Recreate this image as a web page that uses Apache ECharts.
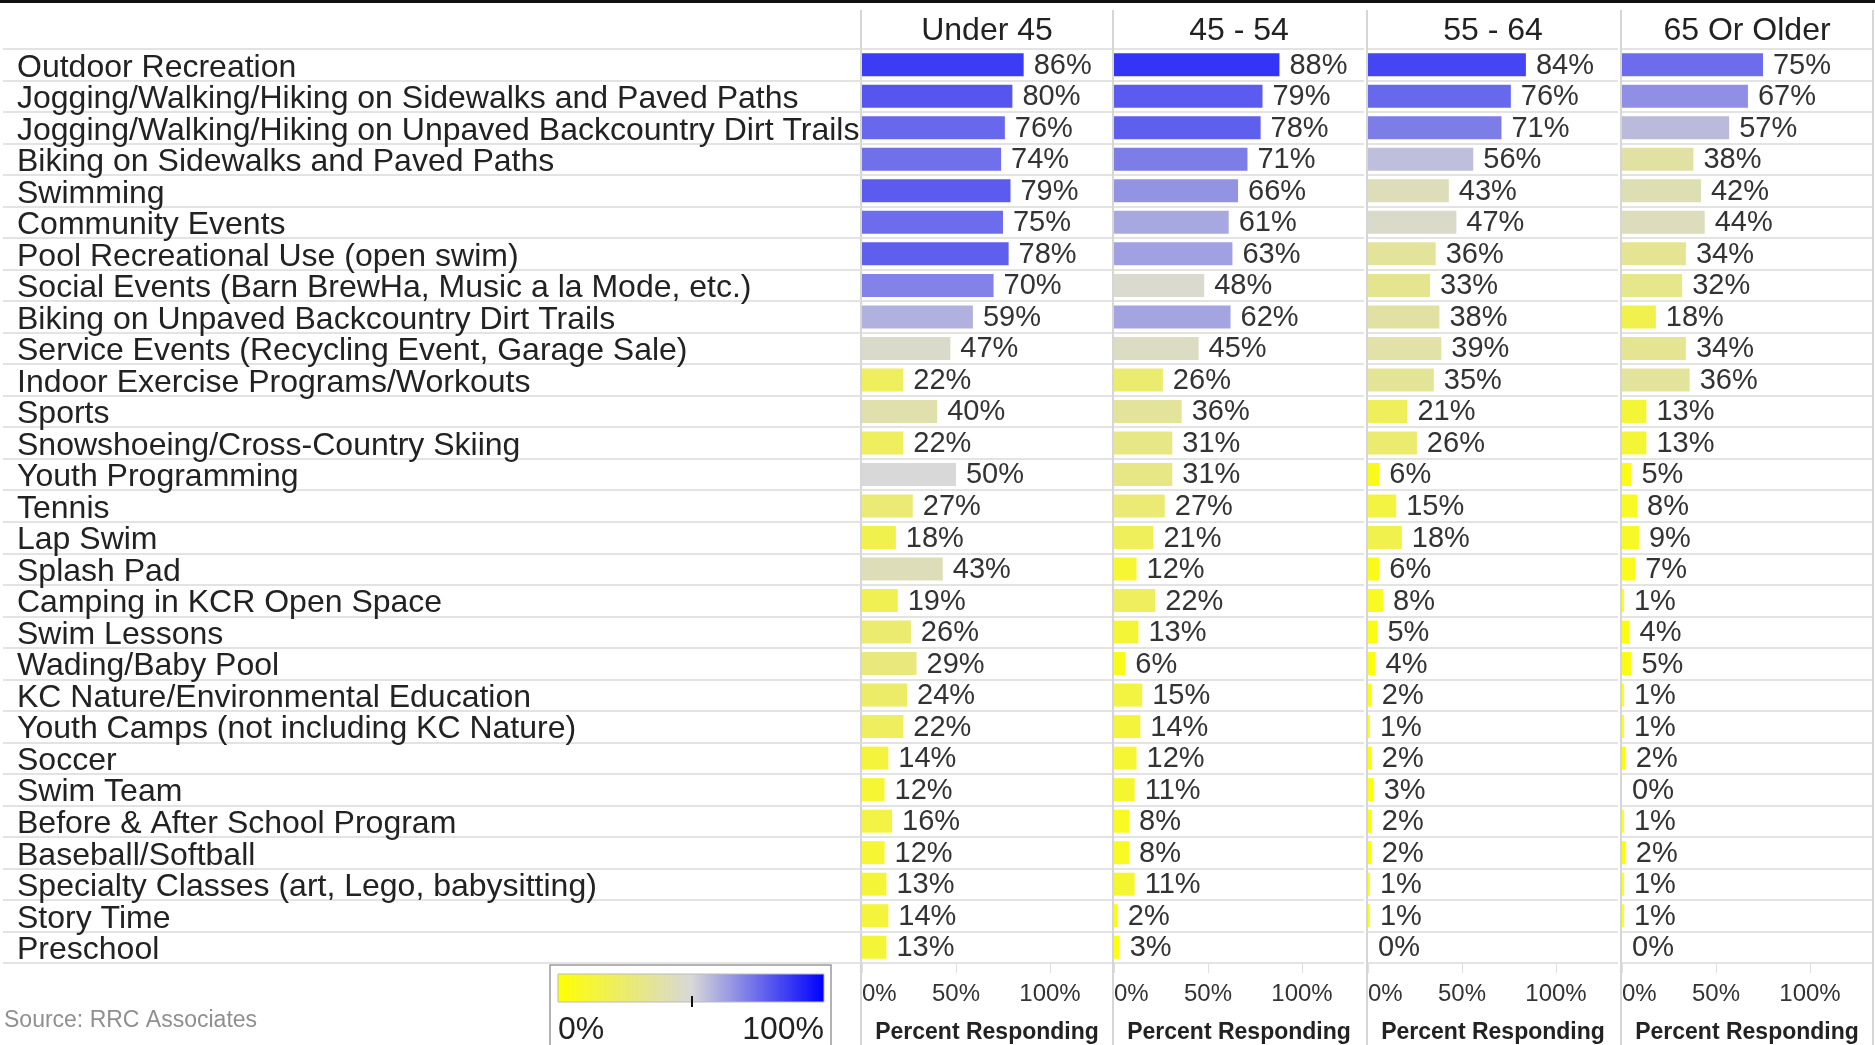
<!DOCTYPE html>
<html>
<head>
<meta charset="utf-8">
<title>Activity participation by age</title>
<script src="https://cdn.jsdelivr.net/npm/echarts@6/dist/echarts.min.js"></script>
<style>
    html, body { margin: 0; padding: 0; background: #fff; }
    #chart { width: 1875px; height: 1045px; }
</style>
</head>
<body>
<div id="chart"></div>
<script>
var activities = [
    'Outdoor Recreation',
    'Jogging/Walking/Hiking on Sidewalks and Paved Paths',
    'Jogging/Walking/Hiking on Unpaved Backcountry Dirt Trails',
    'Biking on Sidewalks and Paved Paths',
    'Swimming',
    'Community Events',
    'Pool Recreational Use (open swim)',
    'Social Events (Barn BrewHa, Music a la Mode, etc.)',
    'Biking on Unpaved Backcountry Dirt Trails',
    'Service Events (Recycling Event, Garage Sale)',
    'Indoor Exercise Programs/Workouts',
    'Sports',
    'Snowshoeing/Cross-Country Skiing',
    'Youth Programming',
    'Tennis',
    'Lap Swim',
    'Splash Pad',
    'Camping in KCR Open Space',
    'Swim Lessons',
    'Wading/Baby Pool',
    'KC Nature/Environmental Education',
    'Youth Camps (not including KC Nature)',
    'Soccer',
    'Swim Team',
    'Before & After School Program',
    'Baseball/Softball',
    'Specialty Classes (art, Lego, babysitting)',
    'Story Time',
    'Preschool'
]
var ageGroups = ['Under 45', '45 - 54', '55 - 64', '65 Or Older']

var under45 = [86, 80, 76, 74, 79, 75, 78, 70, 59, 47, 22, 40, 22, 50, 27, 18, 43, 19, 26, 29, 24, 22, 14, 12, 16, 12, 13, 14, 13]
var age45to54 = [88, 79, 78, 71, 66, 61, 63, 48, 62, 45, 26, 36, 31, 31, 27, 21, 12, 22, 13, 6, 15, 14, 12, 11, 8, 8, 11, 2, 3]
var age55to64 = [84, 76, 71, 56, 43, 47, 36, 33, 38, 39, 35, 21, 26, 6, 15, 18, 6, 8, 5, 4, 2, 1, 2, 3, 2, 2, 1, 1, 0]
var age65plus = [75, 67, 57, 38, 42, 44, 34, 32, 18, 34, 36, 13, 13, 5, 8, 9, 7, 1, 4, 5, 1, 1, 2, 0, 1, 2, 1, 1, 0]
var groupValues = [under45, age45to54, age55to64, age65plus]

var legendLabels = ['0%', '100%']
var sourceNote = 'Source: RRC Associates'

var font = "'Liberation Sans', Arial, sans-serif"
var gridTop = 49
var gridHeight = 914
var colLeft = [862, 1114, 1368, 1622]
var colWidth = 250
var separators = [861, 1113, 1367, 1621, 1873]
var rowLineColor = '#e3e3e3'
var colLineColor = '#d6d6d6'

// grid 0: row lines under the label column, grid 1: the labels themselves (nudged down a little)
var grids = [
    { left: 3, top: gridTop, width: 858, height: gridHeight, outerBoundsMode: 'none' },
    { left: 3, top: gridTop + 3, width: 858, height: gridHeight, outerBoundsMode: 'none' }
]
var xAxes = [
    { gridIndex: 0, type: 'value', show: false },
    { gridIndex: 1, type: 'value', show: false }
]
var yAxes = [{
    gridIndex: 0,
    type: 'category',
    data: activities,
    inverse: true,
    axisLine: { show: false },
    axisTick: { show: false },
    axisLabel: { show: false },
    splitLine: { show: true, interval: 0, lineStyle: { color: rowLineColor, width: 2 } }
}, {
    gridIndex: 1,
    type: 'category',
    data: activities,
    inverse: true,
    axisLine: { show: false },
    axisTick: { show: false },
    axisLabel: {
        inside: true,
        interval: 0,
        margin: 14,
        fontFamily: font,
        fontSize: 32,
        color: '#222'
    },
    splitLine: { show: false }
}]
var series = []

for (var i = 0; i < ageGroups.length; i++) {
    var gridIndex = grids.length
    grids.push({ left: colLeft[i], top: gridTop, width: colWidth, height: gridHeight, outerBoundsMode: 'none' })
    var valueAxisIndex = xAxes.length
    xAxes.push({
        gridIndex: gridIndex,
        type: 'value',
        min: 0,
        max: 133,
        interval: 50,
        axisLine: { show: false },
        axisTick: { show: true, length: 10, lineStyle: { color: '#dedede' } },
        splitLine: { show: false },
        axisLabel: {
            formatter: '{value}%',
            showMaxLabel: false,
            alignMinLabel: 'left',
            margin: 19,
            fontFamily: font,
            fontSize: 24,
            color: '#333'
        },
        name: 'Percent Responding',
        nameLocation: 'middle',
        nameGap: 58,
        nameMoveOverlap: false,
        nameTextStyle: { fontFamily: font, fontSize: 23, fontWeight: 'bold', color: '#222' }
    })
    xAxes.push({
        gridIndex: gridIndex,
        type: 'category',
        position: 'top',
        data: [ageGroups[i]],
        axisLine: { show: false },
        axisTick: { show: false },
        axisLabel: { margin: 2, fontFamily: font, fontSize: 32, color: '#222' }
    })
    var catAxisIndex = yAxes.length
    yAxes.push({
        gridIndex: gridIndex,
        type: 'category',
        data: activities,
        inverse: true,
        axisLine: { show: false },
        axisTick: { show: false },
        axisLabel: { show: false },
        splitLine: { show: true, interval: 0, lineStyle: { color: rowLineColor, width: 2 } }
    })
    series.push({
        name: ageGroups[i],
        type: 'bar',
        xAxisIndex: valueAxisIndex,
        yAxisIndex: catAxisIndex,
        barWidth: 23,
        label: {
            show: true,
            position: 'right',
            distance: 10,
            offset: [0, 1],
            formatter: '{c}%',
            fontFamily: font,
            fontSize: 29,
            color: '#333'
        },
        data: groupValues[i]
    })
}

var graphics = [
    { type: 'rect', shape: { x: 0, y: 0, width: 1875, height: 3 }, style: { fill: '#111' } }
]
separators.forEach(function(x) {
    graphics.push({ type: 'line', shape: { x1: x, y1: 10, x2: x, y2: 1045 }, style: { stroke: colLineColor, lineWidth: 2 } })
})
// colour legend
graphics.push(
    { type: 'rect', shape: { x: 550, y: 965, width: 281, height: 82 }, style: { fill: '#fff', stroke: '#9a9a9a', lineWidth: 1.5 } },
    {
        type: 'rect',
        shape: { x: 558, y: 974, width: 266, height: 28 },
        style: {
            fill: new echarts.graphic.LinearGradient(0, 0, 1, 0, [
                { offset: 0, color: '#ffff00' },
                { offset: 0.5, color: '#d8d8d8' },
                { offset: 1, color: '#0000ff' }
            ]),
            stroke: '#bbb',
            lineWidth: 1
        }
    },
    { type: 'line', shape: { x1: 692, y1: 996, x2: 692, y2: 1007 }, style: { stroke: '#111', lineWidth: 2 } },
    { type: 'text', x: 558, y: 1030, style: { text: legendLabels[0], font: '32px ' + font, fill: '#222', align: 'left', verticalAlign: 'middle' } },
    { type: 'text', x: 824, y: 1030, style: { text: legendLabels[1], font: '32px ' + font, fill: '#222', align: 'right', verticalAlign: 'middle' } },
    { type: 'text', x: 4, y: 1021, style: { text: sourceNote, font: '23px ' + font, fill: '#8f8f8f', align: 'left', verticalAlign: 'middle' } }
)

var option = {
    animation: false,
    backgroundColor: '#fff',
    grid: grids,
    xAxis: xAxes,
    yAxis: yAxes,
    visualMap: {
        type: 'continuous',
        show: false,
        min: 0,
        max: 100,
        dimension: 0,
        seriesIndex: [0, 1, 2, 3],
        inRange: { color: ['#ffff00', '#d8d8d8', '#0000ff'] }
    },
    series: series,
    graphic: graphics
}

var myChart = echarts.init(document.getElementById('chart'))
myChart.setOption(option)
window.addEventListener('resize', function() {
    myChart.resize()
})
</script>
</body>
</html>
